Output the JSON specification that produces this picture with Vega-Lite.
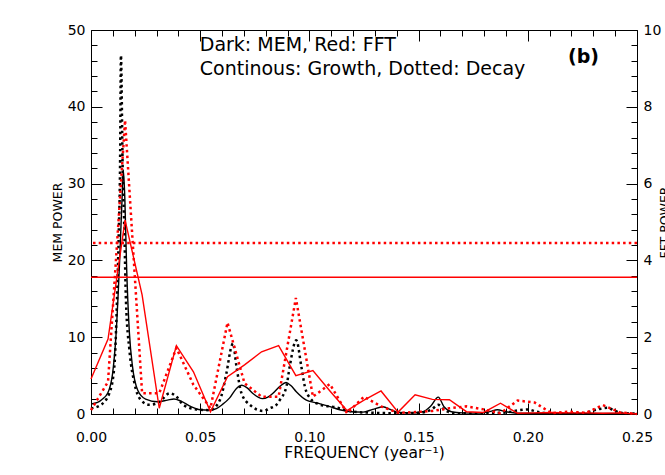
{
  "$schema": "https://vega.github.io/schema/vega-lite/v6.json",
  "width": 546,
  "height": 384,
  "autosize": {"type": "none"},
  "padding": {"left": 91, "top": 30, "right": 28, "bottom": 61},
  "background": "white",
  "config": {
    "view": {"stroke": null},
    "font": "DejaVu Sans",
    "axis": {
      "labelFont": "DejaVu Sans",
      "labelFontSize": 14,
      "labelColor": "#000",
      "titleFont": "DejaVu Sans",
      "titleFontSize": 13,
      "titleFontWeight": "normal",
      "titleColor": "#000",
      "tickColor": "#000",
      "domainColor": "#000",
      "domainWidth": 1,
      "tickWidth": 1,
      "grid": false
    }
  },
  "datasets": {
    "memG": [
      {"f": 0.0, "p": 1.3}, {"f": 0.003, "p": 1.5}, {"f": 0.005, "p": 1.9}, {"f": 0.0076, "p": 2.7},
      {"f": 0.0099, "p": 5.3}, {"f": 0.0115, "p": 10.5}, {"f": 0.013, "p": 19.2}, {"f": 0.0142, "p": 27.9},
      {"f": 0.0148, "p": 31.8}, {"f": 0.0155, "p": 28.0}, {"f": 0.0163, "p": 19.2}, {"f": 0.0176, "p": 10.5},
      {"f": 0.019, "p": 6.2}, {"f": 0.0214, "p": 3.1}, {"f": 0.025, "p": 1.95}, {"f": 0.0305, "p": 1.6},
      {"f": 0.035, "p": 1.8}, {"f": 0.038, "p": 1.95}, {"f": 0.041, "p": 1.7}, {"f": 0.0458, "p": 0.95},
      {"f": 0.05, "p": 0.55}, {"f": 0.0544, "p": 0.5}, {"f": 0.0574, "p": 0.7}, {"f": 0.06, "p": 1.2},
      {"f": 0.0635, "p": 2.1}, {"f": 0.0665, "p": 3.3}, {"f": 0.0691, "p": 3.75}, {"f": 0.0715, "p": 3.4},
      {"f": 0.074, "p": 2.7}, {"f": 0.0785, "p": 2.0}, {"f": 0.081, "p": 2.2}, {"f": 0.0833, "p": 2.7},
      {"f": 0.0865, "p": 3.6}, {"f": 0.0893, "p": 4.1}, {"f": 0.0915, "p": 3.7}, {"f": 0.094, "p": 2.9},
      {"f": 0.0986, "p": 1.8}, {"f": 0.104, "p": 1.4}, {"f": 0.109, "p": 1.0}, {"f": 0.1139, "p": 0.55},
      {"f": 0.119, "p": 0.3}, {"f": 0.1245, "p": 0.25}, {"f": 0.129, "p": 0.6}, {"f": 0.1337, "p": 0.95},
      {"f": 0.137, "p": 0.6}, {"f": 0.14, "p": 0.25}, {"f": 0.147, "p": 0.15}, {"f": 0.152, "p": 0.3},
      {"f": 0.1555, "p": 1.0}, {"f": 0.159, "p": 2.2}, {"f": 0.1615, "p": 1.0}, {"f": 0.165, "p": 0.3},
      {"f": 0.17, "p": 0.15}, {"f": 0.178, "p": 0.12}, {"f": 0.183, "p": 0.35}, {"f": 0.186, "p": 0.55},
      {"f": 0.19, "p": 0.3}, {"f": 0.195, "p": 0.1}, {"f": 0.21, "p": 0.08}, {"f": 0.23, "p": 0.07},
      {"f": 0.25, "p": 0.05}
    ],
    "memD": [
      {"f": 0.0, "p": 0.74}, {"f": 0.004, "p": 1.1}, {"f": 0.0084, "p": 2.7}, {"f": 0.0107, "p": 6.2},
      {"f": 0.0119, "p": 14.8}, {"f": 0.0127, "p": 23.5}, {"f": 0.0133, "p": 32.2}, {"f": 0.0137, "p": 46.7},
      {"f": 0.0145, "p": 32.2}, {"f": 0.0153, "p": 23.5}, {"f": 0.016, "p": 14.8}, {"f": 0.0176, "p": 8.3},
      {"f": 0.0199, "p": 4.0}, {"f": 0.0229, "p": 1.8}, {"f": 0.0267, "p": 1.2}, {"f": 0.0315, "p": 1.6},
      {"f": 0.036, "p": 2.7}, {"f": 0.039, "p": 2.3}, {"f": 0.0422, "p": 1.2}, {"f": 0.0483, "p": 0.6},
      {"f": 0.0544, "p": 0.5}, {"f": 0.059, "p": 1.8}, {"f": 0.062, "p": 5.3}, {"f": 0.0643, "p": 8.8},
      {"f": 0.065, "p": 9.2}, {"f": 0.0666, "p": 6.2}, {"f": 0.0689, "p": 2.7}, {"f": 0.0727, "p": 1.2},
      {"f": 0.0789, "p": 0.4}, {"f": 0.0818, "p": 0.74}, {"f": 0.0849, "p": 1.2}, {"f": 0.0864, "p": 1.8},
      {"f": 0.0895, "p": 3.6}, {"f": 0.091, "p": 6.2}, {"f": 0.094, "p": 9.6}, {"f": 0.0963, "p": 6.2},
      {"f": 0.0979, "p": 3.6}, {"f": 0.1005, "p": 2.0}, {"f": 0.104, "p": 1.3}, {"f": 0.1075, "p": 1.05},
      {"f": 0.1115, "p": 0.9}, {"f": 0.1155, "p": 0.6}, {"f": 0.12, "p": 0.3}, {"f": 0.13, "p": 0.15},
      {"f": 0.14, "p": 0.1}, {"f": 0.15, "p": 0.15}, {"f": 0.156, "p": 0.6}, {"f": 0.159, "p": 1.2},
      {"f": 0.162, "p": 0.5}, {"f": 0.166, "p": 0.1}, {"f": 0.18, "p": 0.1}, {"f": 0.19, "p": 0.2},
      {"f": 0.196, "p": 0.5}, {"f": 0.2, "p": 0.6}, {"f": 0.204, "p": 0.3}, {"f": 0.21, "p": 0.1},
      {"f": 0.225, "p": 0.1}, {"f": 0.232, "p": 0.6}, {"f": 0.2365, "p": 0.8}, {"f": 0.24, "p": 0.4},
      {"f": 0.244, "p": 0.1}, {"f": 0.25, "p": 0.05}
    ],
    "fftG": [
      {"f": 0.0, "p": 0.91}, {"f": 0.0078, "p": 1.95}, {"f": 0.0156, "p": 5.05}, {"f": 0.0234, "p": 3.1},
      {"f": 0.03125, "p": 0.15}, {"f": 0.0391, "p": 1.78}, {"f": 0.0469, "p": 1.1}, {"f": 0.0547, "p": 0.06},
      {"f": 0.0625, "p": 0.97}, {"f": 0.0703, "p": 1.28}, {"f": 0.0781, "p": 1.62}, {"f": 0.0859, "p": 1.78},
      {"f": 0.0938, "p": 1.0}, {"f": 0.1016, "p": 1.13}, {"f": 0.1094, "p": 0.6}, {"f": 0.1172, "p": 0.09},
      {"f": 0.125, "p": 0.36}, {"f": 0.1328, "p": 0.6}, {"f": 0.1406, "p": 0.05}, {"f": 0.1484, "p": 0.5},
      {"f": 0.1563, "p": 0.38}, {"f": 0.1641, "p": 0.37}, {"f": 0.1719, "p": 0.06}, {"f": 0.1797, "p": 0.04},
      {"f": 0.1875, "p": 0.28}, {"f": 0.1953, "p": 0.02}, {"f": 0.2031, "p": 0.03}, {"f": 0.2109, "p": 0.04},
      {"f": 0.2188, "p": 0.03}, {"f": 0.2266, "p": 0.03}, {"f": 0.2344, "p": 0.02}, {"f": 0.2422, "p": 0.03},
      {"f": 0.25, "p": 0.0}
    ],
    "fftD": [
      {"f": 0.0, "p": 0.1}, {"f": 0.0078, "p": 0.84}, {"f": 0.0156, "p": 7.65}, {"f": 0.0234, "p": 0.54},
      {"f": 0.03125, "p": 0.54}, {"f": 0.0391, "p": 1.72}, {"f": 0.0469, "p": 0.76}, {"f": 0.0547, "p": 0.15},
      {"f": 0.0625, "p": 2.38}, {"f": 0.0703, "p": 0.8}, {"f": 0.0781, "p": 0.45}, {"f": 0.0859, "p": 0.45},
      {"f": 0.0938, "p": 3.02}, {"f": 0.1016, "p": 0.45}, {"f": 0.1094, "p": 0.78}, {"f": 0.1172, "p": 0.02},
      {"f": 0.125, "p": 0.45}, {"f": 0.1328, "p": 0.2}, {"f": 0.1406, "p": 0.03}, {"f": 0.1484, "p": 0.05},
      {"f": 0.1563, "p": 0.08}, {"f": 0.1641, "p": 0.15}, {"f": 0.1719, "p": 0.2}, {"f": 0.1797, "p": 0.12},
      {"f": 0.1875, "p": 0.02}, {"f": 0.1953, "p": 0.35}, {"f": 0.2031, "p": 0.3}, {"f": 0.2109, "p": 0.02},
      {"f": 0.2188, "p": 0.06}, {"f": 0.2266, "p": 0.03}, {"f": 0.2344, "p": 0.23}, {"f": 0.2422, "p": 0.04},
      {"f": 0.25, "p": 0.0}
    ],
    "thr": [
      {"v": 4.45, "kind": "Decay"},
      {"v": 3.56, "kind": "Growth"}
    ],
    "notes": [
      {"x": 0.0498, "y": 48.0, "t": "Dark: MEM, Red: FFT"},
      {"x": 0.0498, "y": 44.9, "t": "Continous: Growth, Dotted: Decay"}
    ],
    "panel": [
      {"x": 0.2255, "y": 46.5, "t": "(b)"}
    ]
  },
  "layer": [
    {
      "data": {"name": "memG"},
      "mark": {"type": "line", "color": "#000", "strokeWidth": 1.4, "interpolate": "monotone"},
      "encoding": {
        "x": {
          "field": "f", "type": "quantitative",
          "scale": {"domain": [0, 0.25], "nice": false, "zero": false},
          "axis": {
            "orient": "bottom", "values": [0, 0.05, 0.1, 0.15, 0.2, 0.25], "format": ".2f",
            "tickSize": -11, "labelPadding": 27, "title": "FREQUENCY (year⁻¹)", "titlePadding": 1,
            "titleFontSize": 15.5, "labelFlush": false
          }
        },
        "y": {
          "field": "p", "type": "quantitative",
          "scale": {"domain": [0, 50], "nice": false},
          "axis": {
            "orient": "left", "values": [0, 10, 20, 30, 40, 50],
            "tickSize": -11, "labelPadding": 17, "title": "MEM POWER", "titlePadding": 3,
            "titleFontSize": 12.5, "labelFlush": false
          }
        }
      }
    },
    {
      "data": {"name": "memD"},
      "mark": {"type": "line", "color": "#000", "strokeWidth": 2.5, "strokeDash": [2.5, 3.2], "interpolate": "monotone"},
      "encoding": {
        "x": {
          "field": "f", "type": "quantitative",
          "scale": {"domain": [0, 0.25], "nice": false, "zero": false},
          "axis": {
            "orient": "bottom",
            "values": [0.01, 0.02, 0.03, 0.04, 0.06, 0.07, 0.08, 0.09, 0.11, 0.12, 0.13, 0.14, 0.16, 0.17, 0.18, 0.19, 0.21, 0.22, 0.23, 0.24],
            "tickSize": -6, "labels": false, "domain": false, "title": null
          }
        },
        "y": {
          "field": "p", "type": "quantitative",
          "scale": {"domain": [0, 50], "nice": false},
          "axis": {
            "orient": "left",
            "values": [2, 4, 6, 8, 12, 14, 16, 18, 22, 24, 26, 28, 32, 34, 36, 38, 42, 44, 46, 48],
            "tickSize": -6, "labels": false, "domain": false, "title": null
          }
        }
      }
    },
    {
      "data": {"name": "fftG"},
      "mark": {"type": "line", "color": "#ff0000", "strokeWidth": 1.4},
      "encoding": {
        "x": {
          "field": "f", "type": "quantitative",
          "scale": {"domain": [0, 0.25], "nice": false, "zero": false},
          "axis": {
            "orient": "top", "values": [0, 0.05, 0.1, 0.15, 0.2, 0.25],
            "tickSize": -11, "labels": false, "title": null
          }
        },
        "y": {
          "field": "p", "type": "quantitative",
          "scale": {"domain": [0, 10], "nice": false},
          "axis": {
            "orient": "right", "values": [0, 2, 4, 6, 8, 10],
            "tickSize": -11, "labelPadding": 17, "title": "FFT POWER", "titleAngle": -90,
            "titleBaseline": "top", "titleFontSize": 12.5,
            "titlePadding": -2, "labelFlush": false
          }
        }
      }
    },
    {
      "data": {"name": "fftD"},
      "mark": {"type": "line", "color": "#ff0000", "strokeWidth": 2.5, "strokeDash": [2.5, 3.2]},
      "encoding": {
        "x": {
          "field": "f", "type": "quantitative",
          "scale": {"domain": [0, 0.25], "nice": false, "zero": false},
          "axis": {
            "orient": "top",
            "values": [0.01, 0.02, 0.03, 0.04, 0.06, 0.07, 0.08, 0.09, 0.11, 0.12, 0.13, 0.14, 0.16, 0.17, 0.18, 0.19, 0.21, 0.22, 0.23, 0.24],
            "tickSize": -6, "labels": false, "domain": false, "title": null
          }
        },
        "y": {
          "field": "p", "type": "quantitative",
          "scale": {"domain": [0, 10], "nice": false},
          "axis": {
            "orient": "right",
            "values": [0.4, 0.8, 1.2, 1.6, 2.4, 2.8, 3.2, 3.6, 4.4, 4.8, 5.2, 5.6, 6.4, 6.8, 7.2, 7.6, 8.4, 8.8, 9.2, 9.6],
            "tickSize": -6, "labels": false, "domain": false, "title": null
          }
        }
      }
    },
    {
      "data": {"name": "thr"},
      "mark": {"type": "rule", "color": "#ff0000", "strokeCap": "butt"},
      "encoding": {
        "y": {
          "field": "v", "type": "quantitative",
          "scale": {"domain": [0, 10], "nice": false},
          "axis": null
        },
        "strokeDash": {
          "field": "kind", "type": "nominal",
          "scale": {"domain": ["Growth", "Decay"], "range": [[1, 0], [2.5, 3.2]]},
          "legend": null
        },
        "strokeWidth": {
          "field": "kind", "type": "nominal",
          "scale": {"domain": ["Growth", "Decay"], "range": [1.4, 2.5]},
          "legend": null
        }
      }
    },
    {
      "data": {"name": "notes"},
      "mark": {"type": "text", "align": "left", "baseline": "middle", "font": "DejaVu Sans", "fontSize": 19, "color": "#000"},
      "encoding": {
        "x": {"field": "x", "type": "quantitative", "scale": {"domain": [0, 0.25], "nice": false, "zero": false}, "axis": null},
        "y": {"field": "y", "type": "quantitative", "scale": {"domain": [0, 50], "nice": false}, "axis": null},
        "text": {"field": "t"}
      }
    },
    {
      "data": {"name": "panel"},
      "mark": {"type": "text", "align": "center", "baseline": "middle", "font": "DejaVu Sans", "fontSize": 19, "fontWeight": "bold", "color": "#000"},
      "encoding": {
        "x": {"field": "x", "type": "quantitative", "scale": {"domain": [0, 0.25], "nice": false, "zero": false}, "axis": null},
        "y": {"field": "y", "type": "quantitative", "scale": {"domain": [0, 50], "nice": false}, "axis": null},
        "text": {"field": "t"}
      }
    }
  ],
  "resolve": {"scale": {"y": "independent"}, "axis": {"x": "independent", "y": "independent"}}
}
